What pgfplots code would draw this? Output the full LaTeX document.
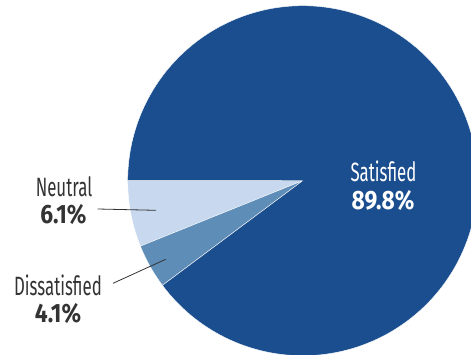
\documentclass[border=0pt]{standalone}
\usepackage{pgfplots}
\pgfplotsset{compat=1.18}
\usepackage{fontspec}
\setmainfont{Fira Sans}
\newfontfamily\lblfont{Fira Sans}[FakeStretch=0.635]
\newfontfamily\numfont{Fira Sans}[FakeStretch=0.86]
\definecolor{satc}{HTML}{1B4E8E}
\definecolor{disc}{HTML}{5E8DB8}
\definecolor{neuc}{HTML}{C8D8EE}
\definecolor{txt}{HTML}{333333}
% shares in percent
\def\neutral{6.1}
\def\dissat{4.1}
\def\satis{89.8}
\def\cx{302.7}
\def\cy{173.3}
\def\rr{175}
\begin{document}
\begin{tikzpicture}
\path[use as bounding box, clip] (0,0) rectangle (471pt,354pt);
\pgfmathsetmacro{\aA}{180}
\pgfmathsetmacro{\aB}{\aA+3.6*\neutral}
\pgfmathsetmacro{\aC}{\aB+3.6*\dissat}
\pgfmathsetmacro{\aD}{\aC+3.6*\satis}
\begin{axis}[hide axis, scale only axis, width=471pt, height=354pt,
  at={(0,0)}, anchor=south west,
  xmin=0, xmax=471, ymin=0, ymax=354, clip=true]
\addplot[fill=neuc, draw=white, line width=0.4pt, samples=40, domain=\aA:\aB, variable=\t]
  ({\cx+\rr*cos(t)}, {\cy+\rr*sin(t)}) -- (\cx,\cy) -- cycle;
\addplot[fill=disc, draw=white, line width=0.4pt, samples=40, domain=\aB:\aC, variable=\t]
  ({\cx+\rr*cos(t)}, {\cy+\rr*sin(t)}) -- (\cx,\cy) -- cycle;
\addplot[fill=satc, draw=white, line width=0.4pt, samples=300, domain=\aC:\aD, variable=\t]
  ({\cx+\rr*cos(t)}, {\cy+\rr*sin(t)}) -- (\cx,\cy) -- cycle;
\draw[txt, line width=0.8pt] (97.7,145) -- (156,143.7);
\draw[txt, line width=0.8pt] (113,70.7) -- (165.7,94.7);
\tikzset{lbl/.style={anchor=base, inner sep=0pt, text depth=0pt, text height=18pt, font=\lblfont\fontsize{26.5}{30}\selectfont},
         num/.style={anchor=base, inner sep=0pt, text depth=0pt, text height=18pt, font=\numfont\fontsize{26.5}{30}\selectfont\bfseries}}
\node[lbl, text=txt] at (64,158) {Neutral};
\node[num, text=txt] at (63.5,131) {6.1\%};
\node[lbl, text=txt] at (58,59) {Dissatisfied};
\node[num, text=txt] at (58,31.5) {4.1\%};
\node[lbl, text=white] at (383.5,173) {Satisfied};
\node[num, text=white] at (383,144.5) {89.8\%};
\end{axis}
\end{tikzpicture}
\end{document}
